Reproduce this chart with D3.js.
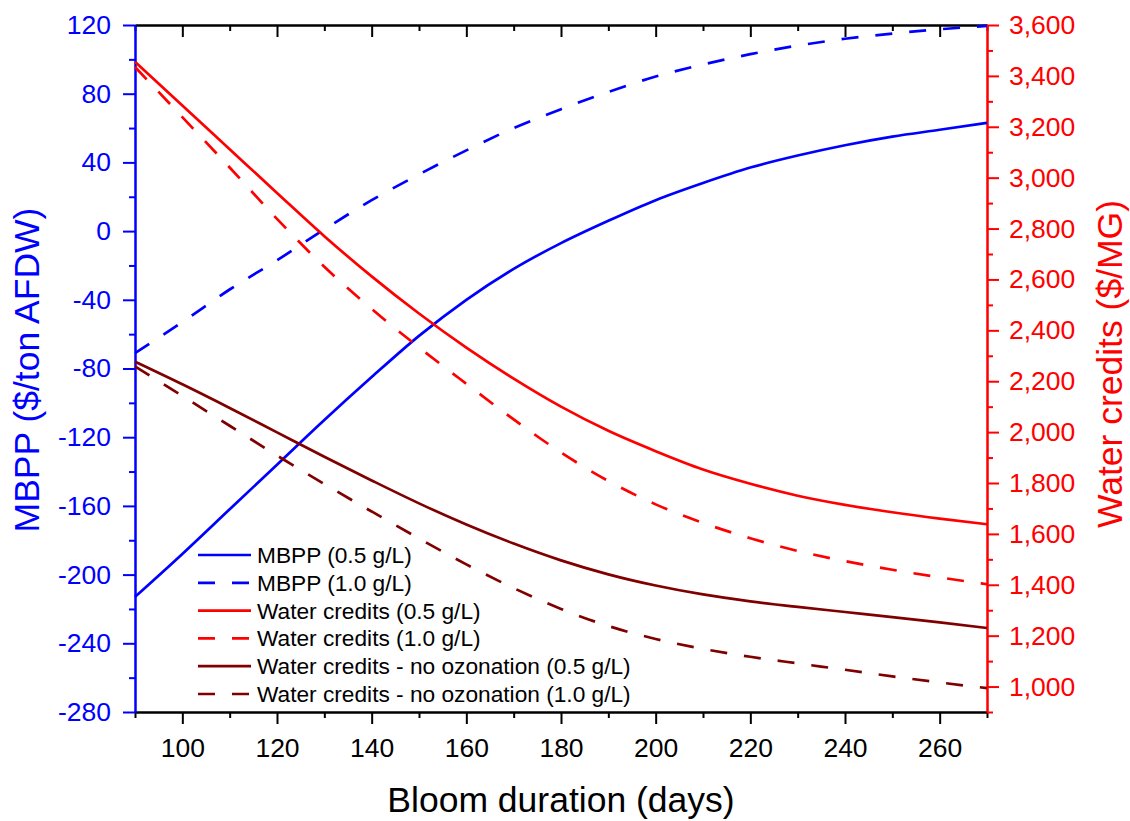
<!DOCTYPE html>
<html>
<head>
<meta charset="utf-8">
<script src="https://cdn.jsdelivr.net/npm/d3@7"></script>
<style>
  body { margin: 0; background: #fff; }
  svg { display: block; font-family: "Liberation Sans", Arial, sans-serif; }
</style>
</head>
<body>
<div id="chart"></div>
<script>
// bloom duration (days)
const days = [90, 100, 110, 120, 130, 140, 150, 160, 170, 180, 190, 200, 210, 220, 230, 240, 250, 260, 270];

// MBPP ($/ton AFDW) - left axis
const mbpp05 = [-213, -188, -162, -136, -110, -85, -61, -40, -22, -7, 6, 18, 28, 37, 44, 50, 55, 59, 63];
const mbpp10 = [-71, -53, -34, -17, 1, 18, 33, 47, 60, 71, 81, 90, 97, 103, 108, 112, 115, 117.5, 119.5];

// Water credits ($/MG) - right axis
const water05 = [3455, 3284, 3112, 2940, 2770, 2612, 2466, 2332, 2210, 2100, 2005, 1925, 1853, 1797, 1750, 1714, 1685, 1660, 1638];
const water10 = [3435, 3238, 3040, 2838, 2650, 2484, 2333, 2190, 2050, 1920, 1808, 1716, 1643, 1583, 1533, 1493, 1459, 1429, 1402];
const waterNoOz05 = [2277, 2188, 2095, 1999, 1903, 1810, 1720, 1637, 1562, 1496, 1441, 1397, 1362, 1335, 1313, 1293, 1273, 1252, 1230];
const waterNoOz10 = [2258, 2142, 2025, 1908, 1796, 1688, 1582, 1480, 1387, 1305, 1238, 1187, 1148, 1117, 1091, 1066, 1040, 1016, 994];

const xMajor = [100, 120, 140, 160, 180, 200, 220, 240, 260];
const xMinor = [90, 110, 130, 150, 170, 190, 210, 230, 250, 270];
const yLeftMajor = [-280, -240, -200, -160, -120, -80, -40, 0, 40, 80, 120];
const yLeftMinor = [-260, -220, -180, -140, -100, -60, -20, 20, 60, 100];
const yRightMajor = [1000, 1200, 1400, 1600, 1800, 2000, 2200, 2400, 2600, 2800, 3000, 3200, 3400, 3600];
const yRightMinor = [900, 1100, 1300, 1500, 1700, 1900, 2100, 2300, 2500, 2700, 2900, 3100, 3300, 3500];

const series = [
    { label: "MBPP (0.5 g/L)", values: mbpp05, axis: "left", color: "#0000ff", dash: null },
    { label: "MBPP (1.0 g/L)", values: mbpp10, axis: "left", color: "#0000ff", dash: "17,17" },
    { label: "Water credits (0.5 g/L)", values: water05, axis: "right", color: "#ff0000", dash: null },
    { label: "Water credits (1.0 g/L)", values: water10, axis: "right", color: "#ff0000", dash: "17,17" },
    { label: "Water credits - no ozonation (0.5 g/L)", values: waterNoOz05, axis: "right", color: "#800000", dash: null },
    { label: "Water credits - no ozonation (1.0 g/L)", values: waterNoOz10, axis: "right", color: "#800000", dash: "17,17" }
];

const W = 1130, H = 821;
const margin = { top: 25, right: 143, bottom: 109, left: 135 };
const width = W - margin.left - margin.right;   // 852
const height = H - margin.top - margin.bottom;  // 687

const svg = d3.select("#chart").append("svg")
    .attr("width", W)
    .attr("height", H);

const g = svg.append("g")
    .attr("transform", `translate(${margin.left}, ${margin.top})`);

const x = d3.scaleLinear().domain([90, 270]).range([0, width]);
const yL = d3.scaleLinear().domain([-280, 120]).range([height, 0]);
const yR = d3.scaleLinear().domain([900, 3600]).range([height, 0]);

const tickFont = "26.5px";

// plain hyphen for negatives, like the original
const leftFormat = d => String(d);

// helper to style an axis group
function styleAxis(sel, color) {
    sel.attr("color", color);
    sel.selectAll("path, line").attr("stroke-width", 2);
    sel.selectAll("text").style("font-size", tickFont);
}

// bottom axis
g.append("g")
    .attr("transform", `translate(0, ${height})`)
    .call(d3.axisBottom(x).tickValues(xMinor).tickSize(6).tickSizeOuter(0).tickFormat(""))
    .call(s => styleAxis(s, "#000"));
g.append("g")
    .attr("transform", `translate(0, ${height})`)
    .call(d3.axisBottom(x).tickValues(xMajor).tickSize(12).tickSizeOuter(0).tickPadding(14))
    .call(s => styleAxis(s, "#000"))
    .call(s => s.selectAll("text").attr("dy", "0.71em"));

// top axis (ticks inward)
g.append("g")
    .call(d3.axisTop(x).tickValues(xMinor).tickSize(-6).tickSizeOuter(0).tickFormat(""))
    .call(s => styleAxis(s, "#000"));
g.append("g")
    .call(d3.axisTop(x).tickValues(xMajor).tickSize(-12).tickSizeOuter(0).tickFormat(""))
    .call(s => styleAxis(s, "#000"));

// left axis
g.append("g")
    .call(d3.axisLeft(yL).tickValues(yLeftMinor).tickSize(6).tickSizeOuter(0).tickFormat(""))
    .call(s => styleAxis(s, "#0000ff"));
g.append("g")
    .call(d3.axisLeft(yL).tickValues(yLeftMajor).tickSize(12).tickSizeOuter(0).tickPadding(12).tickFormat(leftFormat))
    .call(s => styleAxis(s, "#0000ff"));

// right axis
g.append("g")
    .attr("transform", `translate(${width}, 0)`)
    .call(d3.axisRight(yR).tickValues(yRightMinor).tickSize(6).tickSizeOuter(0).tickFormat(""))
    .call(s => styleAxis(s, "#ff0000"));
g.append("g")
    .attr("transform", `translate(${width}, 0)`)
    .call(d3.axisRight(yR).tickValues(yRightMajor).tickSize(12).tickSizeOuter(0).tickPadding(10).tickFormat(d3.format(",")))
    .call(s => styleAxis(s, "#ff0000"));

// lines
series.forEach(s => {
    const yScale = s.axis === "left" ? yL : yR;
    const line = d3.line()
        .x((d, i) => x(days[i]))
        .y(d => yScale(d))
        .curve(d3.curveMonotoneX);
    g.append("path")
        .datum(s.values)
        .attr("fill", "none")
        .attr("stroke", s.color)
        .attr("stroke-width", 2.7)
        .attr("stroke-dasharray", s.dash)
        .attr("d", line);
});

// axis titles
svg.append("text")
    .attr("transform", "translate(39, 370) rotate(-90)")
    .attr("text-anchor", "middle")
    .style("font-size", "35.5px")
    .attr("fill", "#0000ff")
    .text("MBPP ($/ton AFDW)");

svg.append("text")
    .attr("transform", "translate(1122, 364) rotate(-90)")
    .attr("text-anchor", "middle")
    .style("font-size", "35.5px")
    .attr("fill", "#ff0000")
    .text("Water credits ($/MG)");

svg.append("text")
    .attr("x", margin.left + width / 2)
    .attr("y", 812)
    .attr("text-anchor", "middle")
    .style("font-size", "35.5px")
    .attr("fill", "#000")
    .text("Bloom duration (days)");

// legend
const legend = svg.append("g").attr("transform", "translate(198, 555)");
series.forEach((s, i) => {
    const row = legend.append("g").attr("transform", `translate(0, ${i * 27.8})`);
    row.append("line")
        .attr("x1", 0).attr("x2", 53)
        .attr("y1", 0).attr("y2", 0)
        .attr("stroke", s.color)
        .attr("stroke-width", 2.7)
        .attr("stroke-dasharray", s.dash);
    row.append("text")
        .attr("x", 59)
        .attr("y", 0)
        .attr("dy", "0.35em")
        .style("font-size", "22.7px")
        .attr("fill", "#000")
        .text(s.label);
});
</script>
</body>
</html>
